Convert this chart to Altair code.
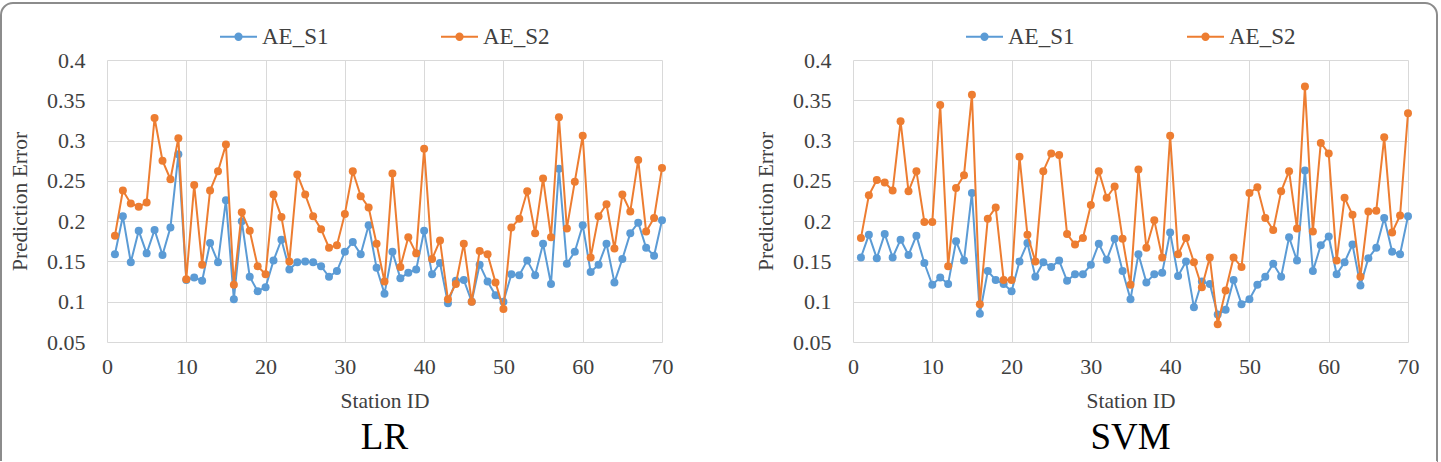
import altair as alt
import pandas as pd

# Station IDs and the two error series for each model
stations = list(range(1, 71))
series_names = ["AE_S1", "AE_S2"]
series_colors = ["#5B9BD5", "#ED7D31"]

lr_s1 = [0.159, 0.206, 0.149, 0.188, 0.160, 0.189, 0.158, 0.192, 0.283, 0.127,
         0.130, 0.126, 0.173, 0.149, 0.226, 0.103, 0.200, 0.131, 0.113, 0.118,
         0.151, 0.177, 0.140, 0.149, 0.150, 0.149, 0.144, 0.131, 0.138, 0.162,
         0.174, 0.159, 0.195, 0.142, 0.110, 0.162, 0.129, 0.136, 0.140, 0.188,
         0.134, 0.148, 0.098, 0.126, 0.127, 0.100, 0.146, 0.125, 0.108, 0.100,
         0.134, 0.133, 0.151, 0.133, 0.172, 0.122, 0.265, 0.147, 0.162, 0.195,
         0.137, 0.146, 0.172, 0.124, 0.153, 0.185, 0.198, 0.167, 0.157, 0.201]
lr_s2 = [0.182, 0.238, 0.222, 0.218, 0.223, 0.328, 0.275, 0.252, 0.303, 0.128,
         0.245, 0.146, 0.238, 0.262, 0.295, 0.121, 0.211, 0.188, 0.144, 0.134,
         0.233, 0.205, 0.150, 0.258, 0.233, 0.206, 0.190, 0.167, 0.170, 0.209,
         0.262, 0.231, 0.217, 0.172, 0.125, 0.259, 0.143, 0.180, 0.160, 0.290,
         0.153, 0.176, 0.103, 0.122, 0.172, 0.100, 0.163, 0.159, 0.124, 0.091,
         0.192, 0.203, 0.237, 0.185, 0.253, 0.180, 0.329, 0.191, 0.249, 0.306,
         0.155, 0.206, 0.221, 0.166, 0.233, 0.212, 0.276, 0.187, 0.204, 0.266]
svm_s1 = [0.155, 0.183, 0.154, 0.184, 0.155, 0.177, 0.158, 0.182, 0.148, 0.121,
          0.130, 0.122, 0.175, 0.151, 0.235, 0.085, 0.138, 0.127, 0.122, 0.113,
          0.150, 0.173, 0.131, 0.149, 0.143, 0.151, 0.126, 0.134, 0.134, 0.146,
          0.172, 0.152, 0.178, 0.138, 0.103, 0.159, 0.124, 0.134, 0.136, 0.186,
          0.132, 0.150, 0.093, 0.125, 0.122, 0.084, 0.090, 0.127, 0.097, 0.103,
          0.121, 0.131, 0.147, 0.131, 0.180, 0.151, 0.263, 0.138, 0.170, 0.181,
          0.134, 0.149, 0.171, 0.120, 0.154, 0.167, 0.204, 0.162, 0.159, 0.206]
svm_s2 = [0.179, 0.232, 0.251, 0.248, 0.238, 0.324, 0.237, 0.262, 0.199, 0.199,
          0.344, 0.144, 0.241, 0.257, 0.357, 0.097, 0.203, 0.217, 0.127, 0.127,
          0.280, 0.183, 0.150, 0.262, 0.284, 0.282, 0.184, 0.171, 0.179, 0.220,
          0.262, 0.229, 0.243, 0.178, 0.121, 0.264, 0.167, 0.201, 0.155, 0.306,
          0.159, 0.179, 0.149, 0.118, 0.155, 0.072, 0.114, 0.155, 0.143, 0.235,
          0.242, 0.204, 0.189, 0.237, 0.262, 0.191, 0.367, 0.187, 0.297, 0.284,
          0.151, 0.229, 0.208, 0.131, 0.212, 0.213, 0.304, 0.186, 0.207, 0.334]

panel_titles = ["LR", "SVM"]
x_ticks = [0, 10, 20, 30, 40, 50, 60, 70]
y_ticks = [0.05, 0.1, 0.15, 0.2, 0.25, 0.3, 0.35, 0.4]

FONT = "Liberation Serif"
TEXT = "#404040"
GRID = "#d9d9d9"
PLOT_W, PLOT_H = 555, 282

# line-with-marker legend glyph: a dash plus concentric rings forming a solid dot
LEGEND_GLYPH = ("M-1,0L1,0"
                "M0.17,0A0.17,0.17,0,1,1,-0.17,0A0.17,0.17,0,1,1,0.17,0"
                "M0.09,0A0.09,0.09,0,1,1,-0.09,0A0.09,0.09,0,1,1,0.09,0"
                "M0.02,0A0.02,0.02,0,1,1,-0.02,0A0.02,0.02,0,1,1,0.02,0")


def long_table(s1, s2):
    return pd.DataFrame({
        "station": stations * 2,
        "series": [series_names[0]] * len(s1) + [series_names[1]] * len(s2),
        "error": s1 + s2,
    })


def panel(s1, s2, title_text, with_frame=False):
    data = long_table(s1, s2)
    color = alt.Color(
        "series:N",
        scale=alt.Scale(domain=series_names, range=series_colors),
        legend=alt.Legend(
            title=None, orient="none", direction="horizontal",
            legendX=112, legendY=-43, padding=0,
            symbolType=LEGEND_GLYPH, symbolSize=1369, symbolStrokeWidth=2,
            labelFont=FONT, labelFontSize=23, labelColor=TEXT,
            labelOffset=4, columnPadding=108,
        ),
    )
    x = alt.X(
        "station:Q",
        scale=alt.Scale(domain=[0, 70], nice=False),
        axis=alt.Axis(values=x_ticks, format="d", title="Station ID"),
    )
    y = alt.Y(
        "error:Q",
        scale=alt.Scale(domain=[0.05, 0.4], nice=False, zero=False),
        axis=alt.Axis(values=y_ticks, format="~g", title="Prediction Error",
                      labelPadding=22, titlePadding=15),
    )

    layers = []
    if with_frame:
        # rounded figure border around both panels, open at the bottom
        W, H, r = 1436, 458, 12
        dash = [(W - 2 * r) + 1.571 * r + (H - r), W, (H - r) + 1.571 * r + 6, 10]
        frame = alt.Chart(pd.DataFrame({"k": [0]})).mark_rect(
            filled=False, stroke="#8c8c8c", strokeWidth=2,
            cornerRadiusTopLeft=r, cornerRadiusTopRight=r, strokeDash=dash,
        ).encode(
            x=alt.value(-106), x2=alt.value(-106 + W),
            y=alt.value(-57), y2=alt.value(-57 + H),
        )
        layers.append(frame)

    for name in series_names:
        base = alt.Chart(data).transform_filter(
            alt.datum.series == name
        ).encode(x=x, y=y, color=color, order="station:Q")
        layers.append(base.mark_line(strokeWidth=2))
        layers.append(base.mark_point(filled=True, size=64, opacity=1))

    # model name centred under the panel
    caption = alt.Chart(pd.DataFrame({"model": [title_text]})).mark_text(
        font=FONT, fontSize=37, color="#000000", align="center",
        baseline="alphabetic",
    ).encode(text="model:N", x=alt.value(PLOT_W / 2), y=alt.value(PLOT_H + 107))
    layers.append(caption)

    return alt.layer(*layers).properties(width=PLOT_W, height=PLOT_H)


left = panel(lr_s1, lr_s2, panel_titles[0], with_frame=True)
right = panel(svm_s1, svm_s2, panel_titles[1])

chart = alt.hconcat(left, right, spacing=191, bounds="flush").resolve_scale(
    color="independent"
).properties(
    padding={"left": 0, "top": 2, "right": 0, "bottom": 0},
    background="white",
).configure(
    font=FONT,
).configure_view(
    strokeWidth=0,
).configure_axis(
    grid=True, gridColor=GRID, gridWidth=1, domain=False, ticks=False,
    labelFont=FONT, labelFontSize=22, labelColor=TEXT,
    labelFlush=False, labelOverlap=False,
    titleFont=FONT, titleFontSize=21.5, titleColor=TEXT, titleFontWeight="normal",
).configure_axisX(
    labelPadding=14, titlePadding=13,
).configure_legend(
    labelFont=FONT,
)

chart.save("out.html", embed_options={"renderer": "svg", "actions": False})
